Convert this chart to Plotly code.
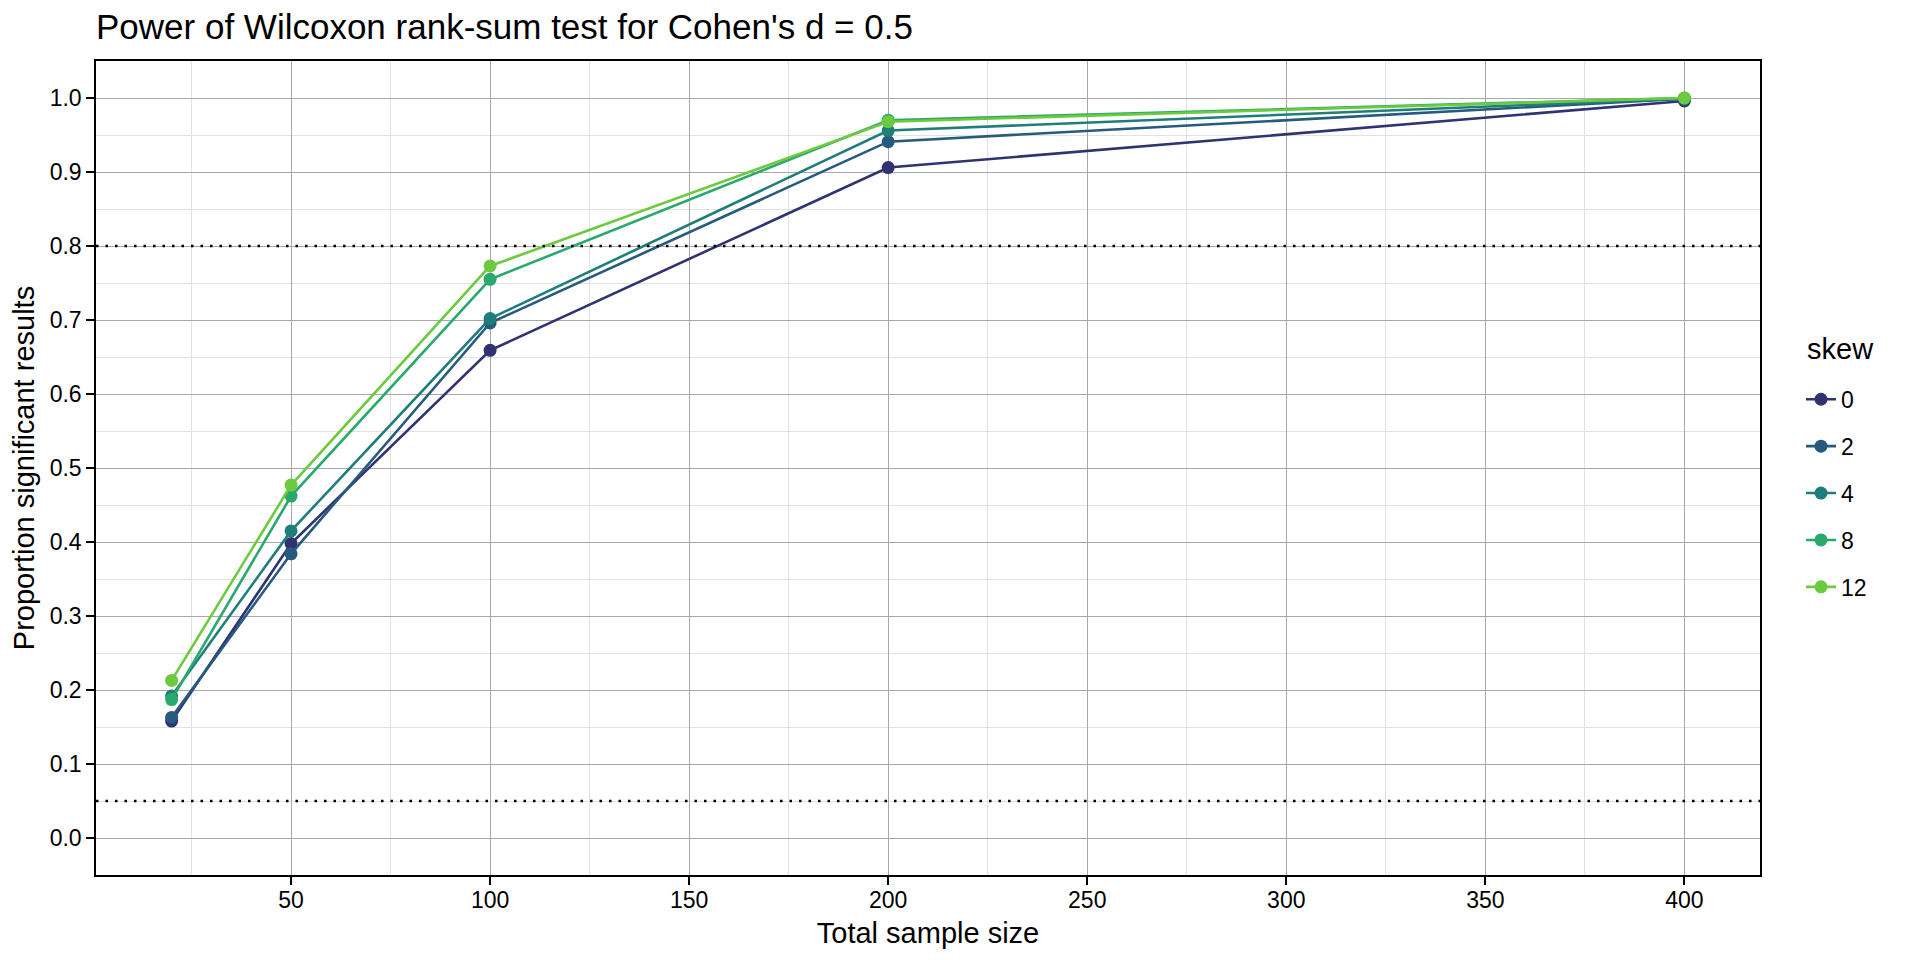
import plotly.graph_objects as go

# ---- data ----
sample_sizes = [20, 50, 100, 200, 400]
skew_levels = ["0", "2", "4", "8", "12"]
power_skew0 = [0.158, 0.398, 0.659, 0.906, 0.996]
power_skew2 = [0.163, 0.384, 0.696, 0.941, 0.999]
power_skew4 = [0.192, 0.415, 0.702, 0.956, 0.999]
power_skew8 = [0.187, 0.462, 0.755, 0.970, 1.000]
power_skew12 = [0.213, 0.477, 0.773, 0.968, 1.000]
series = [power_skew0, power_skew2, power_skew4, power_skew8, power_skew12]
colors = ["#2F3371", "#265A7E", "#1F7E7A", "#29A96B", "#6CCA3E"]
ref_lines = [0.05, 0.8]

FONT = "Liberation Sans, Arial, sans-serif"

# page has an 8px body margin; figure sized to fit inside the 1920x960 window
W, H = 1904, 944
L, T = 88, 53
R = W - 1752
B = H - 867.5
PW, PH = W - L - R, H - T - B

fig = go.Figure()
for i, (lab, vals) in enumerate(zip(skew_levels, series)):
    fig.add_trace(go.Scatter(
        x=sample_sizes, y=vals, mode="lines+markers", name=lab,
        legendgroup=lab,
        line=dict(color=colors[i], width=2.6),
        marker=dict(color=colors[i], size=13),
    ))

for yv in ref_lines:
    fig.add_shape(type="line", xref="paper", x0=0, x1=1, yref="y", y0=yv, y1=yv,
                  line=dict(color="black", width=2.5, dash="2.5px,7px"), layer="above")

axis_common = dict(
    showline=True, mirror=True, linecolor="black", linewidth=1.5,
    ticks="outside", ticklen=8, tickcolor="black", tickwidth=1.5,
    showgrid=True, gridcolor="#A8A8A8", gridwidth=1, zeroline=False,
    tickfont=dict(family=FONT, size=23, color="black"),
    automargin=False,
)

# legend title drawn as a text label above the legend entries
fig.add_annotation(text="skew", xref="paper", yref="paper",
                   x=(1797 - L) / PW, y=1 - (341 - T) / PH,
                   xanchor="left", yanchor="middle", showarrow=False,
                   font=dict(family=FONT, size=29, color="black"))

fig.update_layout(
    width=W, height=H,
    paper_bgcolor="white", plot_bgcolor="white",
    margin=dict(l=L, r=R, t=T, b=B),
    title=dict(text="Power of Wilcoxon rank-sum test for Cohen's d = 0.5",
               x=L / W, xref="container", xanchor="left",
               y=1 - 19 / H, yref="container", yanchor="middle",
               font=dict(family=FONT, size=35, color="black")),
    xaxis=dict(range=[1, 419], tick0=0, dtick=50, ticklabelstandoff=-4,
               minor=dict(dtick=25, tick0=0, showgrid=True, gridcolor="#E2E2E2", gridwidth=1),
               title=dict(text="Total sample size", font=dict(family=FONT, size=29, color="black"), standoff=10),
               **axis_common),
    yaxis=dict(range=[-0.05, 1.05], tick0=0, dtick=0.1, tickformat=".1f",
               minor=dict(dtick=0.05, tick0=0, showgrid=True, gridcolor="#E2E2E2", gridwidth=1),
               title=dict(text="Proportion significant results", font=dict(family=FONT, size=29, color="black"), standoff=12),
               **axis_common),
    legend=dict(x=(1801 - 8 - L) / PW, xanchor="left", y=1 - (370 - T) / PH, yanchor="top",
                font=dict(family=FONT, size=23, color="black"),
                tracegroupgap=14, bgcolor="rgba(0,0,0,0)"),
    showlegend=True,
)

fig.write_html("out.html")
